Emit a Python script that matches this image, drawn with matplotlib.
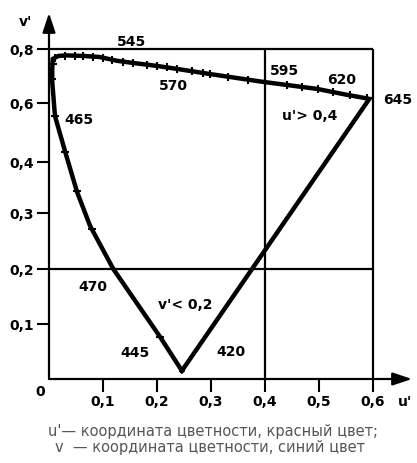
import numpy as np
import matplotlib.pyplot as plt

# spectral locus (u', v'), 420 nm -> 645 nm
locus_u = [0.246, 0.206, 0.119, 0.076, 0.052, 0.030, 0.011, 0.006, 0.006, 0.007,
           0.017, 0.033, 0.063, 0.094, 0.126, 0.156, 0.200, 0.237, 0.298, 0.396,
           0.496, 0.544, 0.593]
locus_v = [0.015, 0.076, 0.200, 0.277, 0.341, 0.434, 0.556, 0.678, 0.726, 0.763,
           0.774, 0.776, 0.774, 0.770, 0.756, 0.748, 0.737, 0.726, 0.707, 0.678,
           0.652, 0.633, 0.615]
N_LEFT = 10  # points of the left (blue-green) branch

# small wavelength marks along the locus
top_tick_u = [0.011, 0.030, 0.048, 0.063, 0.081, 0.100, 0.117, 0.137, 0.156, 0.181, 0.200,
              0.219, 0.237, 0.265, 0.285, 0.298, 0.331, 0.369, 0.400, 0.441, 0.468, 0.498,
              0.526, 0.557, 0.589]
left_tick_v = [0.076, 0.200, 0.271, 0.343, 0.434, 0.556, 0.689, 0.744]

# wavelength labels
wl_labels = ["545", "570", "595", "620", "645", "465", "470", "445", "420"]
wl_u = [0.152, 0.231, 0.435, 0.541, 0.646, 0.056, 0.081, 0.159, 0.337]
wl_v = [0.830, 0.667, 0.722, 0.689, 0.615, 0.546, 0.169, 0.049, 0.051]

# boundary lines of the regions
border_u = [0.4, 0.6]
border_v = [0.2, 0.8]

x_ticks = [0.1, 0.2, 0.3, 0.4, 0.5, 0.6]
x_labels = ["0,1", "0,2", "0,3", "0,4", "0,5", "0,6"]
y_ticks = [0.1, 0.2, 0.3, 0.4, 0.6, 0.8]
y_labels = ["0,1", "0,2", "0,3", "0,4", "0,6", "0,8"]

# the drawing's v' axis is not uniform (upper part squeezed) -> piecewise scale
V_KNOTS = np.array([0, 0.1, 0.2, 0.3, 0.4, 0.6, 0.8, 1.0])
H_KNOTS = np.array([0, 55, 110, 166, 217, 276, 330, 384], dtype=float)


def fwd(v):
    return np.interp(v, V_KNOTS, H_KNOTS)


def inv(h):
    return np.interp(h, H_KNOTS, V_KNOTS)


bold = dict(family="DejaVu Sans", weight="bold", fontsize=10)

fig = plt.figure(figsize=(4.17, 4.64), dpi=100)
ax = fig.add_axes([49 / 417, 84 / 464, 363 / 417, 366 / 464])
ax.set_yscale("function", functions=(fwd, inv))
ax.set_xlim(0, 0.672)
ax.set_ylim(0, 0.933)

for s in ax.spines.values():
    s.set_visible(False)

# axes with arrows
for end in [(0, 1), (1, 0)]:
    ax.annotate("", xy=end, xytext=(0, 0), xycoords="axes fraction",
                arrowprops=dict(arrowstyle="-|>,head_length=0.9,head_width=0.3", lw=1.6,
                                color="k", shrinkA=0, shrinkB=0, mutation_scale=13))

# region borders
for v in border_v:
    ax.plot([0, border_u[-1]], [v, v], color="k", lw=1.6, solid_capstyle="butt")
for u in border_u:
    ax.plot([u, u], [0, border_v[-1]], color="k", lw=1.6, solid_capstyle="butt")

# locus closed by the straight purple line back to 420 nm
ax.plot(locus_u + locus_u[:1], locus_v + locus_v[:1], color="k", lw=3.2,
        solid_joinstyle="miter")

top_u = locus_u[N_LEFT - 1:]
top_v = locus_v[N_LEFT - 1:]
ax.plot(top_tick_u, np.interp(top_tick_u, top_u, top_v), ls="none", marker="|",
        ms=6, mew=1.5, color="k")
left_u = locus_u[:N_LEFT]
left_v = locus_v[:N_LEFT]
ax.plot(np.interp(left_tick_v, left_v, left_u), left_tick_v, ls="none", marker="_",
        ms=6, mew=1.5, color="k")

for lab, u, v in zip(wl_labels, wl_u, wl_v):
    ax.text(u, v, lab, ha="center", va="center", **bold)

ax.text(0.483, 0.559, "u'> 0,4", ha="center", va="center", **bold)
ax.text(0.252, 0.136, "v'< 0,2", ha="center", va="center", **bold)

ax.set_xticks(x_ticks)
ax.set_xticklabels(x_labels)
ax.set_yticks(y_ticks)
ax.set_yticklabels(y_labels)
ax.tick_params(direction="out", length=9, width=1.5, pad=2)
for t in ax.get_xticklabels() + ax.get_yticklabels():
    t.set_fontfamily("DejaVu Sans")
    t.set_fontweight("bold")
    t.set_fontsize(10)

ax.annotate("0", xy=(0, 0), xytext=(-6, -9), textcoords="offset points",
            ha="center", va="center", **bold)
ax.annotate("v'", xy=(0, 1), xycoords="axes fraction", xytext=(-17, -6),
            textcoords="offset points", ha="center", va="center", **bold)
ax.annotate("u'", xy=(1, 0), xycoords="axes fraction", xytext=(-5, -16),
            textcoords="offset points", ha="center", va="center", **bold)

fig.text(213 / 417, 1 - 432 / 464, "u'— координата цветности, красный цвет;",
         ha="center", va="center", fontsize=10.5, color="#555555")
fig.text(210 / 417, 1 - 448 / 464, "v  — координата цветности, синий цвет",
         ha="center", va="center", fontsize=10.5, color="#555555")

fig.savefig("out.png", dpi=100)
